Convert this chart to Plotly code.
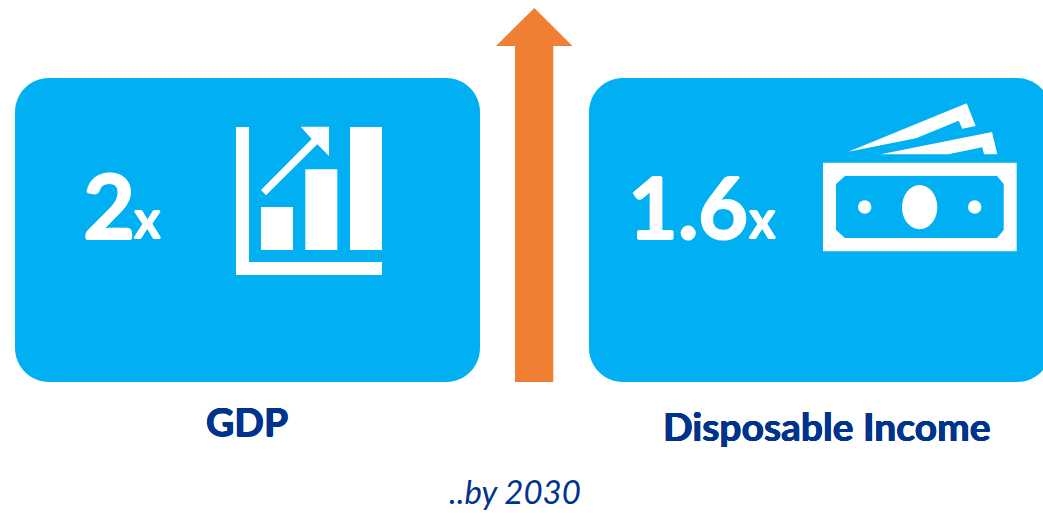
import plotly.graph_objects as go

# Headline figures and captions
multipliers = ["2", "1.6"]
multiplier_suffix = "x"
captions = ["GDP", "Disposable Income"]
horizon = "..by 2030"

BLUE = "#00B0F2"
ORANGE = "#EF7F32"
NAVY = "#00338D"
WHITE = "#FFFFFF"
FONT = "Lato"


def rounded_rect(x0, y0, x1, y1, r):
    k = r * 0.4477
    return (
        f"M{x0 + r},{y0} L{x1 - r},{y0} C{x1 - k},{y0} {x1},{y0 + k} {x1},{y0 + r} "
        f"L{x1},{y1 - r} C{x1},{y1 - k} {x1 - k},{y1} {x1 - r},{y1} "
        f"L{x0 + r},{y1} C{x0 + k},{y1} {x0},{y1 - k} {x0},{y1 - r} "
        f"L{x0},{y0 + r} C{x0},{y0 + k} {x0 + k},{y0} {x0 + r},{y0} Z"
    )


def polygon(*pts):
    return "M" + " L".join(f"{x},{y}" for x, y in pts) + " Z"


def path(d, color):
    return dict(type="path", path=d, fillcolor=color, line_width=0, layer="above")


def rect(x0, y0, x1, y1, color):
    return dict(type="rect", x0=x0, y0=y0, x1=x1, y1=y1, fillcolor=color, line_width=0, layer="above")


def oval(x0, y0, x1, y1, color):
    return dict(type="circle", x0=x0, y0=y0, x1=x1, y1=y1, fillcolor=color, line_width=0, layer="above")


shapes = [
    # Panels
    path(rounded_rect(15, 78, 480, 382, 34), BLUE),
    path(rounded_rect(589, 78, 1051, 382, 34), BLUE),
    # Upward arrow between the panels
    path(polygon((534.3, 8), (572.5, 46), (553.3, 46), (553.3, 382), (515, 382), (515, 46), (496, 46)), ORANGE),
    # Bar chart icon
    rect(236, 127, 249, 275, WHITE),
    rect(236, 262, 382, 275, WHITE),
    rect(261, 207, 293, 250, WHITE),
    rect(305.3, 169.3, 337.3, 250, WHITE),
    rect(350, 127, 382, 250, WHITE),
    path(polygon((300.7, 126.7), (329, 126.7), (329, 156), (317.3, 144.3), (266, 195.3), (261, 190), (311.7, 139)), WHITE),
    # Banknote icon
    path(polygon((848.3, 151.7), (966.7, 103.3), (975.7, 126), (962.3, 128.7), (958.7, 120.7), (916, 138.3)), WHITE),
    path(polygon((880.7, 154.3), (992, 132), (997.3, 154.3), (984, 154.3), (982.3, 147.3), (948.3, 154.3)), WHITE),
    rect(823, 162.7, 1016.7, 251.3, WHITE),
    path(polygon((845, 176), (997, 176), (1003.7, 184), (1003.7, 230), (997, 238), (845, 238), (836, 230), (836, 184)), BLUE),
    oval(902, 185, 937.3, 229.3, WHITE),
    oval(858, 200.3, 871.4, 213.7, WHITE),
    oval(968, 200.3, 981.4, 213.7, WHITE),
]


def heavy(color, amount):
    # Thickens the strokes of the bold face
    return (
        f"{amount}px 0 0 {color}, -{amount}px 0 0 {color}, "
        f"0 {amount}px 0 {color}, 0 -{amount}px 0 {color}"
    )


def label(text, x, y, size, color=WHITE, weight=700, style="normal", anchor="left", thicken=0.0):
    font = dict(family=FONT, size=size, color=color, weight=weight, style=style)
    if thicken:
        font["shadow"] = heavy(color, thicken)
    return dict(
        text=text, x=x, y=y, xref="x", yref="y", xanchor=anchor, yanchor="bottom",
        showarrow=False, borderpad=0, font=font,
    )


annotations = [
    label(multipliers[0], 82, 259, 90, thicken=1.0),
    label(multiplier_suffix, 133, 250, 51, thicken=0.6),
    label(multipliers[1], 627, 258, 86, thicken=1.0),
    label(multiplier_suffix, 748, 250, 51, thicken=0.6),
    label(captions[0], 247, 445, 39, color=NAVY, anchor="center", thicken=0.5),
    label(captions[1], 827, 450, 39, color=NAVY, anchor="center", thicken=0.4),
    label(horizon, 515, 512, 33, color=NAVY, weight=400, style="italic", anchor="center"),
]

fig = go.Figure()
fig.update_layout(
    width=1043,
    height=513,
    margin=dict(l=0, r=0, t=0, b=0),
    paper_bgcolor=WHITE,
    plot_bgcolor=WHITE,
    showlegend=False,
    xaxis=dict(range=[0, 1043], visible=False, fixedrange=True),
    yaxis=dict(range=[513, 0], visible=False, fixedrange=True),
    shapes=shapes,
    annotations=annotations,
)
fig.write_html("out.html", config={"displayModeBar": False})
